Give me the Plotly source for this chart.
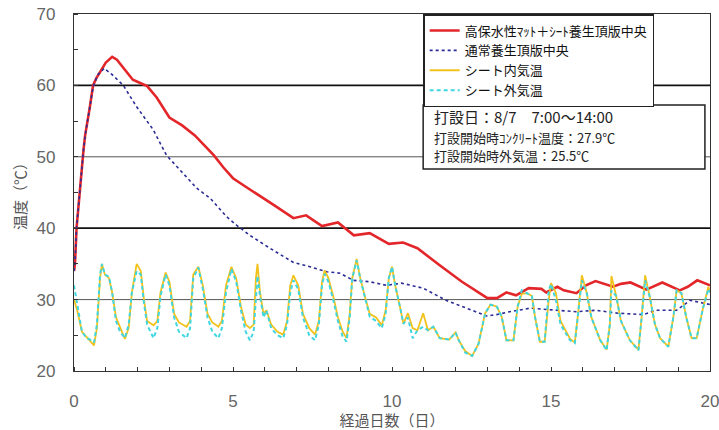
import plotly.graph_objects as go

# --- data ---
red_x = [0, 0.03, 0.08, 0.15, 0.2, 0.3, 0.35, 0.5, 0.6, 0.7, 0.85, 1.0, 1.2, 1.35, 1.6, 1.85, 2.1, 2.3,
         2.6, 3.0, 3.4, 3.8, 4.1, 4.4, 4.7, 5.0, 5.4, 5.9, 6.3, 6.9, 7.3, 7.8, 8.3, 8.8, 9.3, 9.9,
         10.35, 10.8, 11.2, 11.5, 12.2, 12.6, 13.0, 13.3, 13.6, 13.9, 14.3, 14.7, 14.85, 15.2, 15.4,
         15.8, 16.1, 16.4, 16.95, 17.2, 17.5, 18.0, 18.5, 19.05, 19.3, 19.6, 20.0]
red_y = [34, 35, 40, 44, 46, 51, 53, 57, 60, 61, 62.2, 63.2, 64, 63.6, 62.2, 60.8, 60.3, 59.9,
         58.3, 55.5, 54.4, 53.0, 51.6, 50.2, 48.5, 47.0, 45.8, 44.4, 43.2, 41.4, 41.8, 40.3, 40.8, 39.0, 39.3, 37.8,
         38.0, 37.2, 35.8, 34.8, 32.5, 31.4, 30.2, 30.2, 31.0, 30.6, 31.6, 31.5, 31.0, 31.8, 31.3,
         30.9, 32.0, 32.6, 31.8, 32.2, 32.4, 31.4, 32.4, 31.3, 31.8, 32.7, 32.0]

blue_x = [0, 0.03, 0.08, 0.15, 0.2, 0.3, 0.35, 0.5, 0.6, 0.75, 0.95, 1.2, 1.55, 1.97, 2.49, 2.91, 3.44,
          3.86, 4.28, 4.8, 5.12, 5.53, 6.16, 6.9, 7.42, 7.95, 8.36, 8.78, 9.3, 9.83, 10.3, 10.98, 11.7,
          12.35, 12.98, 13.29, 13.7, 14.34, 14.86, 15.18, 15.8, 16.4, 17.1, 17.9, 18.3, 18.95, 19.37,
          19.8, 20.0]
blue_y = [34, 35, 40, 44, 46, 51, 53, 57, 59.8, 61.5, 62.4, 61.5, 60.0, 57.0, 53.8, 50.2, 47.7,
          45.6, 44.2, 41.6, 40.4, 39.0, 37.2, 35.2, 34.6, 33.9, 33.7, 32.7, 32.5, 32.0, 32.3, 31.6, 29.9,
          28.8, 27.7, 27.9, 28.3, 28.8, 28.6, 28.5, 28.3, 28.5, 28.1, 27.9, 28.5, 28.5, 29.9,
          29.5, 29.3]

osc_x = [0.0, 0.1, 0.25, 0.4, 0.55, 0.63, 0.72, 0.82, 0.88, 0.97, 1.1, 1.2, 1.32, 1.45, 1.6, 1.72,
         1.82, 1.97, 2.1, 2.2, 2.3, 2.5, 2.62, 2.72, 2.88, 3.0, 3.15, 3.3, 3.54, 3.65, 3.75, 3.91,
         4.05, 4.2, 4.35, 4.54, 4.65, 4.78, 4.95, 5.1, 5.25, 5.4, 5.53, 5.65, 5.72, 5.77, 5.85, 5.96,
         6.05, 6.2, 6.4, 6.58, 6.7, 6.8, 6.9, 7.05, 7.2, 7.4, 7.58, 7.7, 7.8, 7.88, 8.0, 8.15, 8.3,
         8.45, 8.57, 8.67, 8.75, 8.89, 9.0, 9.15, 9.3, 9.5, 9.68, 9.8, 9.9, 10.0, 10.1, 10.25, 10.36,
         10.5, 10.65, 10.8, 10.98, 11.13, 11.3, 11.5, 11.8, 12.0, 12.1, 12.3, 12.52, 12.72, 12.93,
         13.1, 13.3, 13.45, 13.6, 13.82, 13.95, 14.08, 14.25, 14.4, 14.5, 14.65, 14.8, 14.93, 15.0,
         15.15, 15.3, 15.6, 15.75, 15.85, 15.97, 16.12, 16.27, 16.55, 16.75, 16.85, 16.9, 17.05, 17.2,
         17.48, 17.75, 17.85, 17.96, 18.1, 18.27, 18.43, 18.69, 18.85, 18.95, 19.1, 19.25, 19.42,
         19.58, 19.78, 19.95, 20.0]
inner_y = [30.0, 28.5, 25.5, 24.8, 24.0, 23.6, 26.0, 33.0, 35.0, 33.5, 33.0, 31.0, 27.5, 26.0, 24.5, 26.0,
           31.0, 35.0, 34.0, 30.0, 27.0, 26.4, 27.0, 31.0, 33.8, 32.5, 28.0, 26.8, 26.2, 27.0, 33.5, 34.6,
           32.0, 28.0, 26.8, 26.2, 27.0, 32.0, 34.6, 33.0, 29.0, 26.5, 26.0, 26.5, 33.0, 35.0, 31.0, 28.0,
           28.5, 26.5, 25.5, 25.1, 27.0, 32.0, 33.4, 32.0, 28.0, 26.0, 25.1, 27.0, 32.5, 34.1, 33.0, 30.5, 27.5,
           25.5, 24.6, 28.0, 33.0, 35.7, 33.0, 30.4, 28.0, 27.5, 26.4, 28.5, 33.0, 34.6, 32.0, 29.0, 26.6,
           28.1, 26.0, 25.7, 28.1, 25.7, 26.2, 24.6, 24.4, 25.4, 24.3, 22.8, 22.1, 23.8, 28.1,
           29.3, 29.0, 27.6, 24.3, 24.3, 29.0, 30.8, 30.9, 30.5, 27.5, 24.1, 24.1, 30.0, 32.3,
           31.0, 27.0, 24.5, 24.0, 28.0, 33.4, 31.0, 27.5, 24.3, 23.0, 26.5, 33.3, 30.5, 27.0,
           24.3, 23.0, 27.5, 33.4, 30.5, 26.5, 24.6, 23.4, 27.6, 31.3, 30.9, 27.6, 24.6,
           24.6, 28.8, 31.8, 31.0]
outer_y = [32.0, 29.5, 25.5, 24.6, 24.3, 24.0, 26.5, 33.5, 35.0, 33.5, 33.2, 31.0, 27.0, 25.5, 24.6, 26.5,
           31.0, 34.0, 33.5, 29.5, 26.5, 24.6, 26.0, 30.5, 33.5, 32.0, 27.5, 25.5, 24.6, 26.0, 33.0, 34.5,
           31.5, 27.5, 25.5, 24.6, 26.0, 31.0, 34.3, 32.5, 28.5, 25.5, 24.3, 25.5, 31.0, 33.3, 30.5, 27.5,
           28.5, 26.0, 25.0, 24.6, 26.5, 31.0, 32.7, 31.5, 27.5, 25.0, 24.3, 26.5, 32.0, 33.6, 32.5, 30.0, 27.0,
           24.8, 24.1, 27.5, 33.0, 35.5, 33.0, 30.4, 27.6, 27.0, 26.0, 28.0, 33.0, 34.6, 32.0, 29.0, 26.6,
           27.5, 24.6, 25.7, 26.2, 25.7, 26.2, 24.6, 24.4, 25.4, 24.3, 22.6, 22.1, 23.8, 28.1,
           29.3, 29.0, 27.6, 24.3, 24.3, 29.0, 31.3, 30.9, 30.5, 27.5, 24.1, 24.1, 31.3, 32.2,
           30.0, 26.5, 24.3, 23.9, 28.0, 32.7, 31.0, 27.5, 24.3, 22.9, 26.5, 31.3, 30.5, 27.0,
           24.3, 22.9, 27.5, 32.7, 30.5, 26.5, 24.6, 23.4, 27.6, 31.3, 30.9, 27.6, 24.6,
           24.6, 28.8, 31.5, 31.0]

names = ["高保水性ﾏｯﾄ＋ｼｰﾄ養生頂版中央", "通常養生頂版中央", "シート内気温", "シート外気温"]
grid_levels = [30, 40, 50, 60]
heavy_levels = [40, 60]
x_ticks = [0, 5, 10, 15, 20]
y_ticks = [20, 30, 40, 50, 60, 70]
note_lines = ["打設日：8/7　7:00～14:00", "打設開始時ｺﾝｸﾘｰﾄ温度：27.9℃", "打設開始時外気温：25.5℃"]
note_sizes = [15, 13, 13]
note_ypos = [0.712, 0.655, 0.603]

JP = "Noto Sans CJK JP"
NUM = "Liberation Sans Narrow, Liberation Sans, Arial"

fig = go.Figure()
fig.add_trace(go.Scatter(x=red_x, y=red_y, mode="lines", name=names[0],
                         line=dict(color="#e3262a", width=2.6)))
fig.add_trace(go.Scatter(x=blue_x, y=blue_y, mode="lines", name=names[1],
                         line=dict(color="#2b2d96", width=1.6, dash="dot")))
fig.add_trace(go.Scatter(x=osc_x, y=inner_y, mode="lines", name=names[2],
                         line=dict(color="#f2c21c", width=1.8)))
fig.add_trace(go.Scatter(x=osc_x, y=outer_y, mode="lines", name=names[3],
                         line=dict(color="#3fd6e0", width=2.0, dash="4px,3px")))

for lv in grid_levels:
    heavy = lv in heavy_levels
    fig.add_shape(type="line", xref="paper", x0=0, x1=1, yref="y", y0=lv, y1=lv,
                  line=dict(color="#111" if heavy else "#555", width=1.8 if heavy else 1.0),
                  layer="below")

# info box
fig.add_shape(type="rect", xref="paper", yref="paper", x0=0.549, x1=0.992, y0=0.566, y1=0.745,
              line=dict(color="#222", width=1.5), fillcolor="white", layer="above")
for txt, sz, yp in zip(note_lines, note_sizes, note_ypos):
    fig.add_annotation(xref="paper", yref="paper", x=0.563, y=yp, xanchor="left", yanchor="middle",
                       showarrow=False, text=txt,
                       font=dict(family=JP, size=sz, color="#222"))

fig.update_layout(
    width=719, height=430,
    margin=dict(l=74, r=9, t=14, b=59),
    paper_bgcolor="white", plot_bgcolor="white",
    showlegend=True,
    legend=dict(x=0.549, y=1.0, xanchor="left", yanchor="top",
                bgcolor="white", bordercolor="#222", borderwidth=1.5,
                font=dict(family=JP, size=13, color="#111"),
                tracegroupgap=0, itemwidth=30, entrywidth=238, entrywidthmode="pixels"),
    xaxis=dict(range=[0, 20], tickvals=x_ticks, showgrid=False, zeroline=False,
               showline=True, linecolor="#333", linewidth=1.2, mirror=True,
               ticks="", ticklabelstandoff=14, automargin=False, ticklabeloverflow="allow",
               tickfont=dict(family=NUM, size=17, color="#666"),
               minor=dict(dtick=1, ticks="inside", ticklen=4, tickcolor="#333"),
               title=dict(text="経過日数（日）", font=dict(family=JP, size=15, color="#555"),
                          standoff=4)),
    yaxis=dict(range=[20, 70], tickvals=y_ticks, showgrid=False, zeroline=False,
               showline=True, linecolor="#333", linewidth=1.2, mirror=True,
               ticks="", ticklabelstandoff=14, automargin=False, ticklabeloverflow="allow",
               tickfont=dict(family=NUM, size=17, color="#666"),
               minor=dict(dtick=5, ticks="inside", ticklen=4, tickcolor="#333"),
               title=dict(text="温度（℃）", font=dict(family=JP, size=15, color="#555"),
                          standoff=6)),
)

fig.write_html("out.html")
